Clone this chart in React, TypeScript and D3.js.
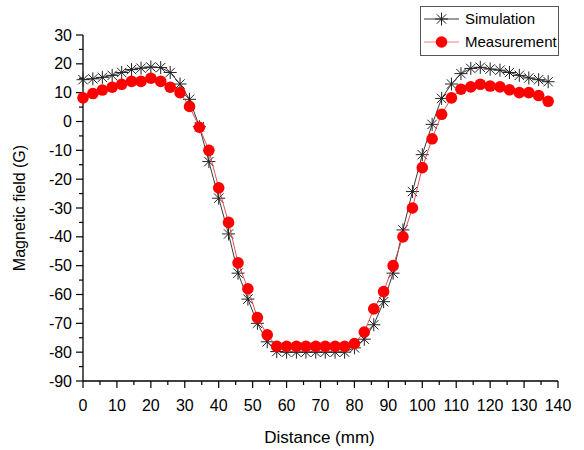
import React from "react";
import * as d3 from "d3";

const distance = [0, 2.9, 5.7, 8.6, 11.4, 14.3, 17.1, 20, 22.9, 25.7, 28.6, 31.4, 34.3, 37.1, 40, 42.9, 45.7, 48.6, 51.4, 54.3, 57.1, 60, 62.9, 65.7, 68.6, 71.4, 74.3, 77.1, 80, 82.9, 85.7, 88.6, 91.4, 94.3, 97.1, 100, 102.9, 105.7, 108.6, 111.4, 114.3, 117.1, 120, 122.9, 125.7, 128.6, 131.4, 134.3, 137.1];

const simulation = [14.5, 14.8, 15.3, 16, 17, 18, 18.5, 18.9, 18.7, 17, 13, 7.7, -1.8, -13.9, -26.6, -39, -52.6, -61.6, -70, -76.4, -79.8, -80, -80, -80, -80, -80, -80, -80, -78.5, -75.5, -70.5, -62.5, -52.6, -37.6, -24.3, -11.5, -1, 8, 13, 16.6, 18.4, 18.8, 18.2, 17.8, 17, 16, 15.1, 14.5, 13.8];

const measurement = [8.2, 9.7, 10.9, 11.9, 12.9, 13.9, 13.9, 15, 13.9, 11.9, 10, 5.2, -2, -10, -23, -35, -49, -58, -68, -74, -78, -78, -78, -78, -78, -78, -78, -78, -77, -73, -65, -59, -50, -40, -30, -16, -6, 2.5, 8.2, 11.2, 12, 12.9, 12.3, 12, 11, 10, 10, 9, 7];

const xTicks = [0, 10, 20, 30, 40, 50, 60, 70, 80, 90, 100, 110, 120, 130, 140];
const xMinor = [5, 15, 25, 35, 45, 55, 65, 75, 85, 95, 105, 115, 125, 135];
const yTicks = [-90, -80, -70, -60, -50, -40, -30, -20, -10, 0, 10, 20, 30];
const yMinor = [-85, -75, -65, -55, -45, -35, -25, -15, -5, 5, 15, 25];

const seriesNames = ["Simulation", "Measurement"];

const FONT = "'Liberation Sans', Arial, sans-serif";

function starPath(cx: number, cy: number, s: number) {
  const d = s * 0.72;
  return `M${cx - s},${cy}L${cx + s},${cy}M${cx},${cy - s}L${cx},${cy + s}M${cx - d},${cy - d}L${cx + d},${cy + d}M${cx - d},${cy + d}L${cx + d},${cy - d}`;
}

export default function App() {
  const W = 584, H = 450;
  const x = d3.scaleLinear().domain([0, 140]).range([83, 558]);
  const y = d3.scaleLinear().domain([-90, 30]).range([381, 35]);

  const simPts = distance.map((d, i) => [x(d), y(simulation[i])] as [number, number]);
  const meaPts = distance.map((d, i) => [x(d), y(measurement[i])] as [number, number]);
  const line = d3.line();

  return (
    <svg width={W} height={H} style={{ position: "absolute", left: 0, top: 0, background: "#fff" }} fontFamily={FONT}>
      <rect x={0} y={0} width={W} height={H} fill="#fff" />
      {/* axes */}
      <line x1={x(0)} x2={x(0)} y1={y(30)} y2={y(-90)} stroke="#000" strokeWidth={1.3} />
      <line x1={x(0)} x2={x(140)} y1={y(-90)} y2={y(-90)} stroke="#000" strokeWidth={1.3} />
      {yTicks.map((t) => (
        <g key={"yt" + t}>
          <line x1={x(0) - 7} x2={x(0)} y1={y(t)} y2={y(t)} stroke="#000" strokeWidth={1.2} />
          <text x={x(0) - 11} y={y(t)} dy="0.35em" textAnchor="end" fontSize={16} fill="#000">{t}</text>
        </g>
      ))}
      {yMinor.map((t) => (
        <line key={"ym" + t} x1={x(0) - 4} x2={x(0)} y1={y(t)} y2={y(t)} stroke="#000" strokeWidth={1.2} />
      ))}
      {xTicks.map((t) => (
        <g key={"xt" + t}>
          <line x1={x(t)} x2={x(t)} y1={y(-90)} y2={y(-90) + 7} stroke="#000" strokeWidth={1.2} />
          <text x={x(t)} y={y(-90) + 30} textAnchor="middle" fontSize={16} fill="#000">{t}</text>
        </g>
      ))}
      {xMinor.map((t) => (
        <line key={"xm" + t} x1={x(t)} x2={x(t)} y1={y(-90)} y2={y(-90) + 4} stroke="#000" strokeWidth={1.2} />
      ))}
      <text x={(x(0) + x(140)) / 2 - 1} y={443} textAnchor="middle" fontSize={17} fill="#000">Distance (mm)</text>
      <text transform={`translate(25, ${(y(30) + y(-90)) / 2}) rotate(-90)`} textAnchor="middle" fontSize={16} fill="#000">Magnetic field (G)</text>

      {/* simulation */}
      <path d={line(simPts) || ""} fill="none" stroke="#222" strokeWidth={0.9} />
      {simPts.map((p, i) => (
        <path key={"s" + i} d={starPath(p[0], p[1], 6.5)} stroke="#222" strokeWidth={1} fill="none" />
      ))}
      {/* measurement */}
      <path d={line(meaPts) || ""} fill="none" stroke="#d84040" strokeWidth={0.9} />
      {meaPts.map((p, i) => (
        <circle key={"m" + i} cx={p[0]} cy={p[1]} r={5.8} fill="#ff0000" />
      ))}

      {/* legend */}
      <rect x={420.5} y={6.5} width={138} height={49} fill="#fff" stroke="#555" strokeWidth={1} />
      <line x1={424} x2={459} y1={19} y2={19} stroke="#222" strokeWidth={0.9} />
      <path d={starPath(441.5, 19, 6.5)} stroke="#222" strokeWidth={1} fill="none" />
      <text x={465} y={19} dy="0.35em" fontSize={15} fill="#000">{seriesNames[0]}</text>
      <line x1={424} x2={459} y1={42} y2={42} stroke="#f08080" strokeWidth={1} />
      <circle cx={441.5} cy={42} r={5.8} fill="#ff0000" />
      <text x={465} y={42} dy="0.35em" fontSize={15} fill="#000">{seriesNames[1]}</text>
    </svg>
  );
}
